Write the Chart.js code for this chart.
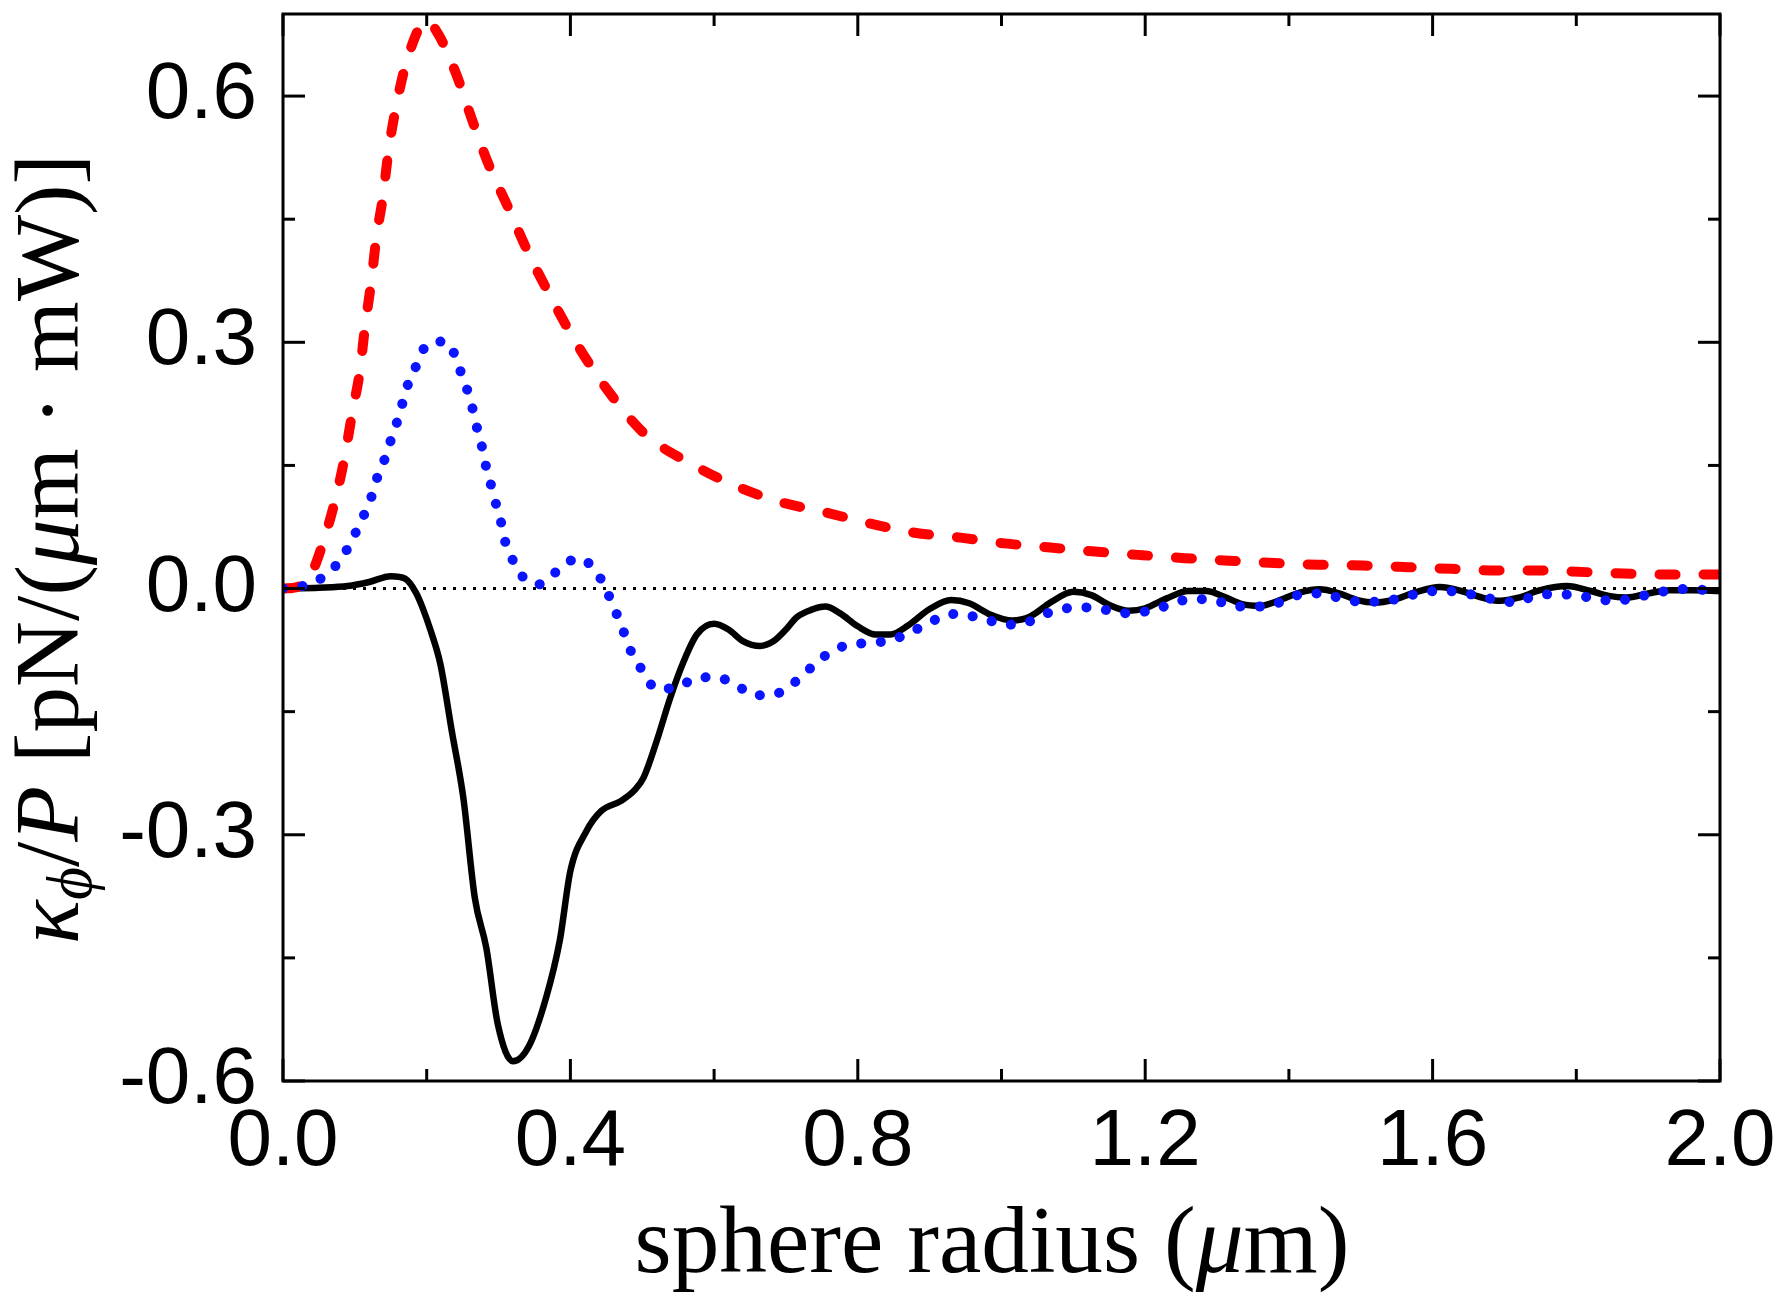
<!DOCTYPE html>
<html><head><meta charset="utf-8">
<script src="https://cdn.jsdelivr.net/npm/chart.js@4.4.1/dist/chart.umd.min.js"></script>
<style>html,body{margin:0;padding:0;background:#fff}#wrap{width:1778px;height:1300px;position:relative}</style>
</head><body><div id="wrap"><canvas id="c"></canvas></div>
<script>
// ---- tick values ----
const xMajorTicks = [0, 0.4, 0.8, 1.2, 1.6, 2.0];
const xMinorTicks = [0.2, 0.6, 1.0, 1.4, 1.8];
const yMajorTicks = [-0.6, -0.3, 0, 0.3, 0.6];
const yMinorTicks = [-0.45, -0.15, 0.15, 0.45];

// ---- titles (text, italic, subscript) ----
const xTitleParts = [['sphere radius (', false], ['μ', true], ['m)', false]];
const yTitleParts = [['κ', true], ['ϕ', true, true], ['/', false], ['P', true], [' [pN/(', false], ['μ', true], ['m · mW)]', false]];

// ---- series: black solid ----
const radiusBlack = [0,0.05,0.09,0.12,0.15,0.17,0.185,0.195,0.205,0.219,0.235,0.251,0.267,0.283,0.299,0.32,0.342,0.366,0.385,0.40,0.422,0.443,0.47,0.49,0.502,0.52,0.539,0.558,0.576,0.6,0.62,0.64,0.664,0.683,0.70,0.715,0.735,0.755,0.775,0.80,0.825,0.845,0.87,0.9,0.93,0.955,0.985,1.015,1.04,1.07,1.1,1.125,1.15,1.177,1.2,1.23,1.26,1.285,1.31,1.335,1.36,1.385,1.415,1.443,1.47,1.495,1.52,1.545,1.575,1.61,1.64,1.665,1.694,1.72,1.75,1.787,1.82,1.845,1.87,1.9,1.93,1.96,2.0];
const kappaBlack  = [0,0.001,0.003,0.008,0.015,0.012,-0.005,-0.025,-0.05,-0.092,-0.174,-0.255,-0.377,-0.438,-0.531,-0.576,-0.558,-0.499,-0.43,-0.344,-0.296,-0.271,-0.259,-0.245,-0.23,-0.186,-0.133,-0.088,-0.056,-0.043,-0.05,-0.064,-0.07,-0.064,-0.05,-0.035,-0.026,-0.022,-0.03,-0.046,-0.056,-0.056,-0.045,-0.025,-0.014,-0.018,-0.032,-0.039,-0.034,-0.016,-0.004,-0.008,-0.02,-0.027,-0.024,-0.012,-0.003,-0.003,-0.01,-0.019,-0.021,-0.015,-0.005,-0.001,-0.006,-0.014,-0.017,-0.014,-0.005,0.002,-0.003,-0.01,-0.015,-0.011,-0.002,0.003,-0.003,-0.009,-0.011,-0.006,-0.002,-0.002,-0.003];

// ---- series: red dashed ----
const radiusRed = [0,0.02,0.035,0.052,0.07,0.084,0.097,0.107,0.114,0.123,0.13,0.139,0.147,0.158,0.174,0.2,0.217,0.241,0.262,0.286,0.313,0.342,0.374,0.409,0.449,0.504,0.568,0.63,0.694,0.754,0.818,0.879,0.943,1.004,1.068,1.13,1.19,1.255,1.316,1.38,1.441,1.503,1.566,1.626,1.689,1.752,1.814,1.877,1.94,2.0];
const kappaRed  = [0,0.002,0.01,0.046,0.099,0.152,0.217,0.265,0.318,0.375,0.428,0.477,0.534,0.59,0.648,0.692,0.674,0.627,0.574,0.517,0.465,0.408,0.353,0.298,0.245,0.188,0.152,0.125,0.105,0.093,0.079,0.068,0.062,0.055,0.05,0.045,0.041,0.037,0.034,0.031,0.029,0.028,0.026,0.024,0.022,0.022,0.020,0.018,0.017,0.017];

// ---- series: blue dotted ----
const radiusBlue = [0,0.027,0.054,0.08,0.096,0.109,0.121,0.129,0.14,0.149,0.158,0.166,0.174,0.187,0.2,0.226,0.243,0.251,0.261,0.267,0.275,0.28,0.2875,0.294,0.302,0.308,0.318,0.333,0.355,0.384,0.41,0.435,0.45,0.462,0.473,0.483,0.498,0.52,0.547,0.575,0.602,0.63,0.656,0.683,0.711,0.738,0.766,0.793,0.819,0.846,0.874,0.901,0.928,0.955,0.983,1.01,1.036,1.064,1.091,1.118,1.145,1.173,1.2,1.226,1.255,1.281,1.308,1.336,1.364,1.39,1.417,1.444,1.472,1.499,1.527,1.553,1.58,1.606,1.636,1.663,1.69,1.717,1.744,1.77,1.797,1.825,1.851,1.879,1.906,1.934,1.962,1.988,2.0];
const kappaBlue  = [0,0.003,0.013,0.035,0.059,0.083,0.106,0.13,0.154,0.178,0.201,0.225,0.249,0.274,0.297,0.301,0.276,0.253,0.231,0.205,0.181,0.158,0.133,0.11,0.087,0.061,0.038,0.015,0.005,0.023,0.037,0.022,-0.002,-0.026,-0.05,-0.074,-0.097,-0.122,-0.121,-0.109,-0.108,-0.117,-0.13,-0.129,-0.115,-0.094,-0.075,-0.068,-0.066,-0.063,-0.053,-0.041,-0.031,-0.033,-0.039,-0.044,-0.041,-0.03,-0.024,-0.023,-0.026,-0.03,-0.028,-0.022,-0.014,-0.013,-0.017,-0.022,-0.022,-0.016,-0.007,-0.006,-0.012,-0.016,-0.016,-0.012,-0.006,-0.003,-0.004,-0.009,-0.014,-0.017,-0.008,-0.007,-0.008,-0.012,-0.015,-0.012,-0.006,-0.002,0,-0.003,-0.003];

// ---- reference zero line ----
const zeroLineX = [0, 2.0];
const zeroLineY = [0, 0];

const pts = (xs, ys) => xs.map((x, i) => ({x, y: ys[i]}));

const SERIF = '"Liberation Serif","DejaVu Serif",serif';
function drawRich(ctx, parts, cx, cy, rot, targetLen) {
  const fontFor = (p, s) => (p[1] ? 'italic ' : '') + (p[2] ? s * 0.7 : s) + 'px ' + SERIF;
  const measure = (s) => parts.reduce((w, p) => { ctx.font = fontFor(p, s); return w + ctx.measureText(p[0]).width; }, 0);
  const size = 100 * targetLen / measure(100);
  const total = measure(size);
  ctx.save();
  ctx.translate(cx, cy);
  ctx.rotate(rot);
  ctx.fillStyle = '#000';
  ctx.textBaseline = 'alphabetic';
  ctx.textAlign = 'left';
  let x = -total / 2;
  parts.forEach(p => {
    ctx.font = fontFor(p, size);
    ctx.fillText(p[0], x, p[2] ? size * 0.14 : 0);
    x += ctx.measureText(p[0]).width;
  });
  ctx.restore();
}

const framePlugin = {
  id: 'framePlugin',
  beforeDraw(chart) {
    const ctx = chart.ctx;
    ctx.save(); ctx.fillStyle = '#fff'; ctx.fillRect(0, 0, chart.width, chart.height); ctx.restore();
  },
  afterDatasetsDraw(chart) {
    const {ctx, chartArea: a, scales: {x, y}} = chart;
    ctx.save();
    ctx.strokeStyle = '#000';
    ctx.lineWidth = 3;
    const seg = (x1, y1, x2, y2) => { ctx.beginPath(); ctx.moveTo(x1, y1); ctx.lineTo(x2, y2); ctx.stroke(); };
    const xt = (vals, len) => vals.forEach(v => { const p = x.getPixelForValue(v); seg(p, a.bottom, p, a.bottom - len); seg(p, a.top, p, a.top + len); });
    const yt = (vals, len) => vals.forEach(v => { const p = y.getPixelForValue(v); seg(a.left, p, a.left + len, p); seg(a.right, p, a.right - len, p); });
    xt(xMajorTicks, 22); xt(xMinorTicks, 12);
    yt(yMajorTicks, 22); yt(yMinorTicks, 12);
    ctx.strokeRect(a.left, a.top, a.right - a.left, a.bottom - a.top);
    ctx.restore();
  },
  afterDraw(chart) {
    const {ctx} = chart;
    drawRich(ctx, xTitleParts, 992, 1272, 0, 715);
    drawRich(ctx, yTitleParts, 78, 549, -Math.PI / 2, 790);
  }
};

const tickFont = {family: '"Liberation Sans", Arial, sans-serif', size: 80};

new Chart(document.getElementById('c'), {
  type: 'line',
  data: {
    datasets: [
      {label: 'blue', data: pts(radiusBlue, kappaBlue), borderColor: '#0a14ff', borderWidth: 10, borderDash: [0.1, 19.5], borderCapStyle: 'round', pointRadius: 0, cubicInterpolationMode: 'monotone', fill: false, order: 0},
      {label: 'red', data: pts(radiusRed, kappaRed), borderColor: '#ff0000', borderWidth: 10, borderDash: [16, 28], borderCapStyle: 'round', pointRadius: 0, cubicInterpolationMode: 'monotone', fill: false, order: 1},
      {label: 'black', data: pts(radiusBlack, kappaBlack), borderColor: '#000000', borderWidth: 6.5, borderJoinStyle: 'round', pointRadius: 0, cubicInterpolationMode: 'monotone', fill: false, order: 2},
      {label: 'zero', data: pts(zeroLineX, zeroLineY), borderColor: '#000000', borderWidth: 3, borderDash: [3, 7], pointRadius: 0, fill: false, order: 3}
    ]
  },
  options: {
    responsive: true,
    maintainAspectRatio: false,
    devicePixelRatio: 1,
    animation: false,
    layout: {padding: {top: 14, right: 58, left: 0, bottom: 0}},
    plugins: {legend: {display: false}, tooltip: {enabled: false}},
    scales: {
      x: {
        type: 'linear', min: 0, max: 2.0,
        afterBuildTicks: s => { s.ticks = xMajorTicks.map(v => ({value: v})); },
        afterFit: s => { s.height = 219; s.paddingLeft = 0; s.paddingRight = 0; s.paddingTop = 0; s.paddingBottom = 0; },
        grid: {display: false, drawTicks: false},
        border: {display: false},
        ticks: {font: tickFont, color: '#000', padding: 14, maxRotation: 0, autoSkip: false, callback: v => Number(v).toFixed(1)},
        title: {display: false}
      },
      y: {
        type: 'linear', min: -0.6, max: 0.7,
        afterBuildTicks: s => { s.ticks = yMajorTicks.map(v => ({value: v})); },
        afterFit: s => { s.width = 283; s.paddingLeft = 0; s.paddingRight = 0; s.paddingTop = 0; s.paddingBottom = 0; },
        grid: {display: false, drawTicks: false},
        border: {display: false},
        ticks: {font: tickFont, color: '#000', padding: 26, autoSkip: false, callback: v => Number(v).toFixed(1)},
        title: {display: false}
      }
    }
  },
  plugins: [framePlugin]
});
</script>
</body></html>
